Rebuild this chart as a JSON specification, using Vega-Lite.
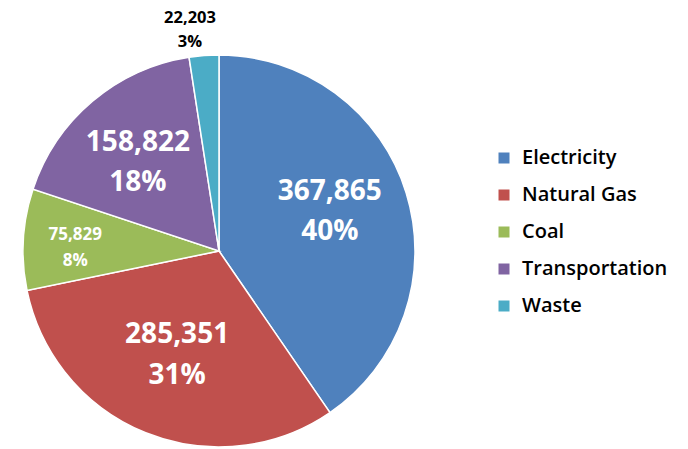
{
  "$schema": "https://vega.github.io/schema/vega-lite/v6.json",
  "width": 438,
  "height": 396,
  "autosize": {"type": "none"},
  "padding": {"left": 0, "top": 53, "right": 250, "bottom": 0},
  "background": "white",
  "config": {"view": {"stroke": null}, "font": "Open Sans"},
  "data": {"values": [
    {"source": "Electricity", "idx": 1, "value": 367865, "pct": 0.40},
    {"source": "Natural Gas", "idx": 2, "value": 285351, "pct": 0.31},
    {"source": "Coal", "idx": 3, "value": 75829, "pct": 0.08},
    {"source": "Transportation", "idx": 4, "value": 158822, "pct": 0.18},
    {"source": "Waste", "idx": 5, "value": 22203, "pct": 0.03}
  ]},
  "encoding": {
    "theta": {"field": "value", "type": "quantitative", "stack": true},
    "order": {"field": "idx", "type": "quantitative"}
  },
  "layer": [
    {
      "mark": {"type": "arc", "outerRadius": 196, "stroke": "white", "strokeWidth": 1.5},
      "encoding": {
        "color": {
          "field": "source", "type": "nominal",
          "scale": {"domain": ["Electricity", "Natural Gas", "Coal", "Transportation", "Waste"],
                    "range": ["#4F81BD", "#C0504D", "#9BBB59", "#8064A2", "#4BACC6"]},
          "legend": {
            "title": null, "orient": "none", "legendX": 494, "legendY": 95,
            "symbolType": "square", "symbolSize": 121, "symbolStrokeWidth": 0,
            "labelFontSize": 20, "labelFont": "Open Sans", "labelFontWeight": 600,
            "labelColor": "black", "labelOffset": 8, "rowPadding": 17
          }
        }
      }
    },
    {
      "mark": {"type": "text", "radius": 116, "dy": -25, "fontSize": 28, "fontWeight": "bold", "fill": "white"},
      "encoding": {"text": {"condition": {"test": "datum.source === 'Electricity'", "field": "value", "type": "quantitative", "format": ","}, "value": ""}}
    },
    {
      "mark": {"type": "text", "radius": 116, "dy": 15, "fontSize": 28, "fontWeight": "bold", "fill": "white"},
      "encoding": {"text": {"condition": {"test": "datum.source === 'Electricity'", "field": "pct", "type": "quantitative", "format": ".0%"}, "value": ""}}
    },
    {
      "mark": {"type": "text", "radius": 112, "dy": -20, "fontSize": 28, "fontWeight": "bold", "fill": "white"},
      "encoding": {"text": {"condition": {"test": "datum.source === 'Natural Gas'", "field": "value", "type": "quantitative", "format": ","}, "value": ""}}
    },
    {
      "mark": {"type": "text", "radius": 112, "dy": 21, "fontSize": 28, "fontWeight": "bold", "fill": "white"},
      "encoding": {"text": {"condition": {"test": "datum.source === 'Natural Gas'", "field": "pct", "type": "quantitative", "format": ".0%"}, "value": ""}}
    },
    {
      "mark": {"type": "text", "radius": 104, "dx": -14, "dy": -29, "fontSize": 28, "fontWeight": "bold", "fill": "white"},
      "encoding": {"text": {"condition": {"test": "datum.source === 'Transportation'", "field": "value", "type": "quantitative", "format": ","}, "value": ""}}
    },
    {
      "mark": {"type": "text", "radius": 104, "dx": -14, "dy": 11, "fontSize": 28, "fontWeight": "bold", "fill": "white"},
      "encoding": {"text": {"condition": {"test": "datum.source === 'Transportation'", "field": "pct", "type": "quantitative", "format": ".0%"}, "value": ""}}
    },
    {
      "mark": {"type": "text", "radius": 144, "dy": -7, "fontSize": 17, "fontWeight": "bold", "fill": "white"},
      "encoding": {"text": {"condition": {"test": "datum.source === 'Coal'", "field": "value", "type": "quantitative", "format": ","}, "value": ""}}
    },
    {
      "mark": {"type": "text", "radius": 144, "dy": 19, "fontSize": 17, "fontWeight": "bold", "fill": "white"},
      "encoding": {"text": {"condition": {"test": "datum.source === 'Coal'", "field": "pct", "type": "quantitative", "format": ".0%"}, "value": ""}}
    },
    {
      "mark": {"type": "text", "radius": 222, "dx": -12, "dy": -12, "fontSize": 16.5, "fontWeight": "bold", "fill": "black"},
      "encoding": {"text": {"condition": {"test": "datum.source === 'Waste'", "field": "value", "type": "quantitative", "format": ","}, "value": ""}}
    },
    {
      "mark": {"type": "text", "radius": 222, "dx": -12, "dy": 12, "fontSize": 16.5, "fontWeight": "bold", "fill": "black"},
      "encoding": {"text": {"condition": {"test": "datum.source === 'Waste'", "field": "pct", "type": "quantitative", "format": ".0%"}, "value": ""}}
    }
  ]
}
